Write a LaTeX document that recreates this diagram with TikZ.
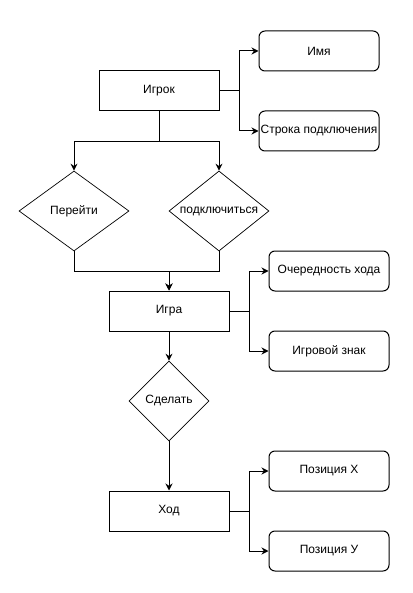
\documentclass[tikz,border=0pt]{standalone}
\usepackage{fontspec}
\setmainfont{Liberation Sans}
\usetikzlibrary{shapes.geometric,arrows.meta}

\tikzset{
  block/.style={draw, line width=1pt, minimum width=120pt, minimum height=40pt, inner sep=0pt},
  attr/.style={block, rounded corners=6pt},
  decision/.style={draw, diamond, line width=0.7pt, inner sep=0pt, minimum height=80pt},
  link/.style={line width=1pt, -{Stealth[length=7pt,width=7pt]}},
}

\begin{document}
\begin{tikzpicture}[x=1pt,y=-1pt,font=\fontsize{12}{14}\selectfont]

\useasboundingbox (0,0) rectangle (412,593);

% igrok
\node[block] (igrok) at (159,91) {Игрок};
\node[attr] (imya) at (319,51) {Имя};
\node[attr] (stroka) at (319,131) {Строка подключения};

\node[decision, minimum width=110pt, aspect=1.375] (perejti) at (74,211) {Перейти};
\node[decision, minimum width=100pt, aspect=1.25] (podkl) at (219,211) {подключиться};

% igra
\node[block] (igra) at (169,311) {Игра};
\node[attr] (ochered) at (329,271) {Очередность хода};
\node[attr] (znak) at (329,351) {Игровой знак};

\node[decision, minimum width=80pt] (sdelat) at (169,401) {Сделать};

% hod
\node[block] (hod) at (169,511) {Ход};
\node[attr] (pozx) at (329,471) {Позиция X};
\node[attr] (pozy) at (329,551) {Позиция У};

\draw[link] (igrok.east) -- ++(20,0) |- (imya.west);
\draw[link] (igrok.east) -- ++(20,0) |- (stroka.west);

\draw[link] (igrok.south) -- ++(0,30) -| (perejti.north);
\draw[link] (igrok.south) -- ++(0,30) -| (podkl.north);

\draw[link] (perejti.south) -- ++(0,20) -| (igra.north);
\draw[link] (podkl.south) -- ++(0,20) -| (igra.north);

\draw[link] (igra.east) -- ++(20,0) |- (ochered.west);
\draw[link] (igra.east) -- ++(20,0) |- (znak.west);

\draw[link] (igra.south) -- (sdelat.north);
\draw[link] (sdelat.south) -- (hod.north);

\draw[link] (hod.east) -- ++(20,0) |- (pozx.west);
\draw[link] (hod.east) -- ++(20,0) |- (pozy.west);

\end{tikzpicture}
\end{document}
